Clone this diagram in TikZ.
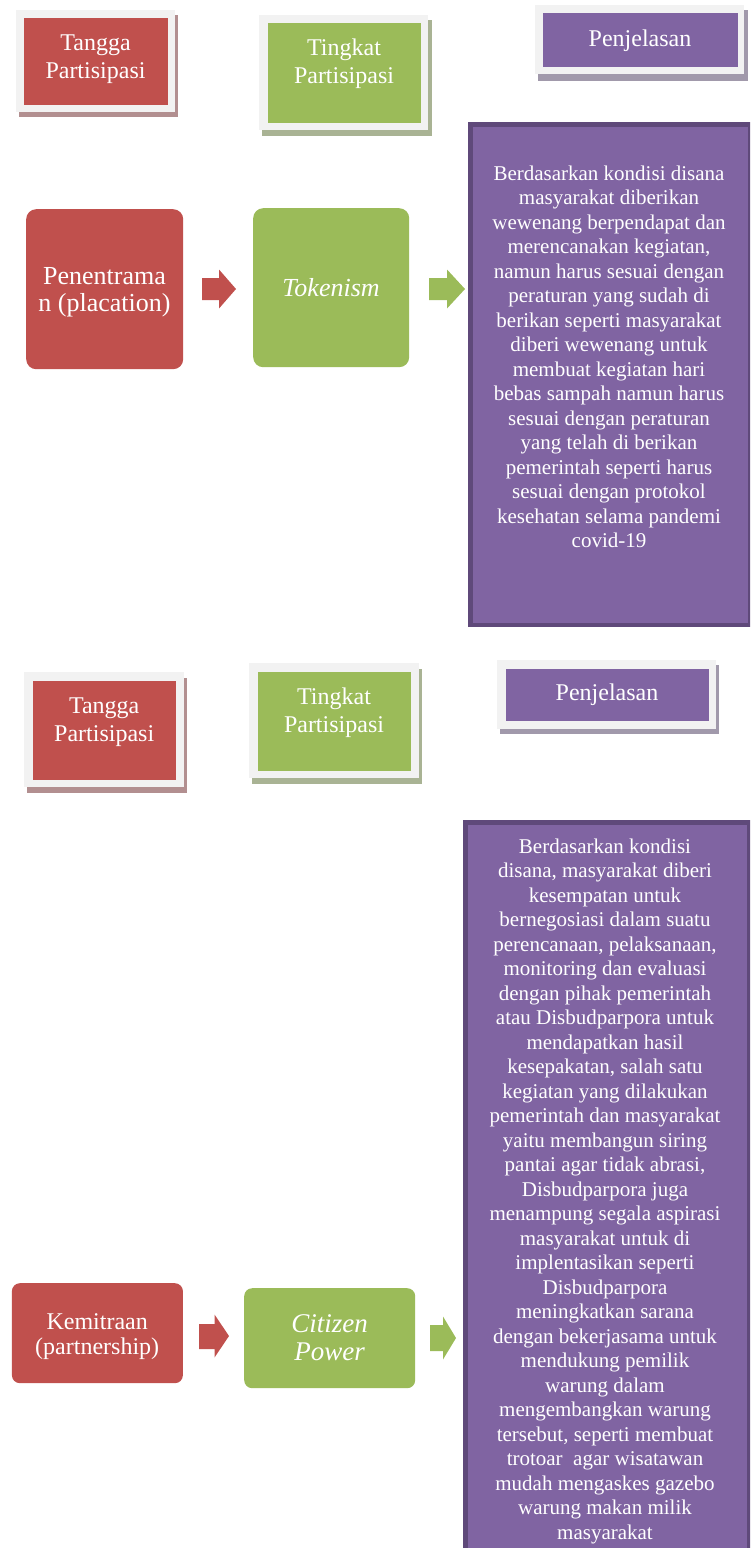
\documentclass[tikz,border=0pt]{standalone}
\usepackage{fontspec}
\setmainfont{Liberation Serif}
\definecolor{redc}{HTML}{C0504D}
\definecolor{greenc}{HTML}{9BBB59}
\definecolor{purplec}{HTML}{8064A2}
\definecolor{purpledark}{HTML}{5F497A}
\definecolor{framec}{HTML}{F2F2F2}
\definecolor{shadowR}{HTML}{B28F90}
\definecolor{shadowG}{HTML}{A9B394}
\definecolor{shadowP}{HTML}{A199AB}
\begin{document}
\begin{tikzpicture}[x=1pt,y=1pt,
  hbox/.style={draw=none,inner sep=0pt,anchor=north west},
  htxt/.style={text=white,inner sep=0pt,align=center,font=\fontsize{24}{28}\selectfont},
  rbox/.style={draw=none,inner sep=0pt,anchor=north west,rounded corners=#1},
  bigbox/.style={draw=purpledark,fill=purplec,line width=4.7pt,inner sep=0pt,anchor=north west},
  btxt/.style={text=white,inner sep=0pt,align=center,font=\fontsize{21}{24.5}\selectfont}]
\useasboundingbox (0,0) rectangle (750,-1548);
\clip (0,0) rectangle (750,-1548);

% ---------- Section 1 headers ----------
\fill[shadowR] (18.5,-15) rectangle (178.3,-117.3);
\fill[framec] (16,-10) rectangle (175,-112);
\node[hbox,fill=redc,minimum width=144,minimum height=86.6] (hA) at (23.3,-17.7) {};
\node[htxt,anchor=north] (hAt) at (95.5,-30.4) {\strut Tangga\\Partisipasi};

\fill[shadowG] (262,-20) rectangle (432.3,-135.7);
\fill[framec] (259.3,-15) rectangle (428.3,-130);
\node[hbox,fill=greenc,minimum width=153.7,minimum height=99.6] (hB) at (267.3,-22.7) {};
\node[htxt,anchor=north] (hBt) at (344,-35.4) {\strut Tingkat\\Partisipasi};

\fill[shadowP] (537.7,-10) rectangle (747.7,-80.7);
\fill[framec] (535,-5) rectangle (744,-74);
\node[hbox,fill=purplec,minimum width=194.6,minimum height=54] (hC) at (542.7,-12.7) {};
\node[htxt,anchor=base] (hCt) at (640,-46) {Penjelasan};

% ---------- Section 1 content ----------
\node[rbox=10pt,fill=redc,minimum width=157,minimum height=160] (r1) at (26,-209) {};
\node[text=white,inner sep=0pt,align=center,anchor=north,font=\fontsize{26}{27}\selectfont] (r1t) at (104.5,-265.1) {\strut Penentrama\\n (placation)};

\node[rbox=10pt,fill=greenc,minimum width=156,minimum height=159] (g1) at (253,-208) {};
\node[text=white,inner sep=0pt,anchor=base,font=\fontsize{26}{27}\selectfont\itshape] (g1t) at (331,-296) {Tokenism};

\node[bigbox,minimum width=279.3,minimum height=500.3] (p1) at (468.35,-122.35) {};
\node[btxt,anchor=north] (p1t) at (609,-162.85) {\strut Berdasarkan kondisi disana\\
masyarakat diberikan\\
wewenang berpendapat dan\\
merencanakan kegiatan,\\
namun harus sesuai dengan\\
peraturan yang sudah di\\
berikan seperti masyarakat\\
diberi wewenang untuk\\
membuat kegiatan hari\\
bebas sampah namun harus\\
sesuai dengan peraturan\\
yang telah di berikan\\
pemerintah seperti harus\\
sesuai dengan protokol\\
kesehatan selama pandemi\\
covid-19};

% block arrows between r1 -> g1 -> p1
\fill[redc] (202,-278) -- (219,-278) -- (219,-269.5) -- (236,-289) -- (219,-308.5) -- (219,-300) -- (202,-300) -- cycle;
\fill[greenc] (429,-278) -- (447,-278) -- (447,-269.5) -- (465,-289) -- (447,-308.5) -- (447,-300) -- (429,-300) -- cycle;

% ---------- Section 2 headers ----------
\fill[shadowR] (26.7,-677.7) rectangle (186.7,-793.3);
\fill[framec] (24,-672.3) rectangle (184,-787.3);
\node[hbox,fill=redc,minimum width=143.7,minimum height=99.3] (hA2) at (32.3,-680.7) {};
\node[htxt,anchor=north] (hA2t) at (104.2,-693.7) {\strut Tangga\\Partisipasi};

\fill[shadowG] (252.3,-669) rectangle (421.7,-784);
\fill[framec] (249.3,-663.3) rectangle (419,-778.3);
\node[hbox,fill=greenc,minimum width=153.7,minimum height=99] (hB2) at (257.3,-671.7) {};
\node[htxt,anchor=north] (hB2t) at (334,-684.7) {\strut Tingkat\\Partisipasi};

\fill[shadowP] (500,-665) rectangle (719,-734.3);
\fill[framec] (496.7,-660) rectangle (716,-729);
\node[hbox,fill=purplec,minimum width=202.6,minimum height=52.7] (hC2) at (505.7,-668.3) {};
\node[htxt,anchor=base] (hC2t) at (607,-700) {Penjelasan};

% ---------- Section 2 content ----------
\node[rbox=8pt,fill=redc,minimum width=171,minimum height=100] (r2) at (11.7,-1283) {};
\node[text=white,inner sep=0pt,align=center,anchor=north,font=\fontsize{24}{23.5}\selectfont] (r2t) at (97.2,-1312.9) {\strut Kemitraan\\(partnership)};

\node[rbox=8pt,fill=greenc,minimum width=171,minimum height=100] (g2) at (244,-1288) {};
\node[text=white,inner sep=0pt,align=center,anchor=north,font=\fontsize{27}{28}\selectfont\itshape] (g2t) at (329.5,-1313.1) {\strut Citizen\\Power};

\node[bigbox,minimum width=283.3,minimum height=739.65] (p2) at (463.35,-820.35) {};
\node[btxt,anchor=north] (p2t) at (605,-835.85) {\strut Berdasarkan kondisi\\
disana, masyarakat diberi\\
kesempatan untuk\\
bernegosiasi dalam suatu\\
perencanaan, pelaksanaan,\\
monitoring dan evaluasi\\
dengan pihak pemerintah\\
atau Disbudparpora untuk\\
mendapatkan hasil\\
kesepakatan, salah satu\\
kegiatan yang dilakukan\\
pemerintah dan masyarakat\\
yaitu membangun siring\\
pantai agar tidak abrasi,\\
Disbudparpora juga\\
menampung segala aspirasi\\
masyarakat untuk di\\
implentasikan seperti\\
Disbudparpora\\
meningkatkan sarana\\
dengan bekerjasama untuk\\
mendukung pemilik\\
warung dalam\\
mengembangkan warung\\
tersebut, seperti membuat\\
trotoar\ \ agar wisatawan\\
mudah mengaskes gazebo\\
warung makan milik\\
masyarakat};

% block arrows between r2 -> g2 -> p2
\fill[redc] (199,-1324) -- (214.5,-1324) -- (214.5,-1314.5) -- (229,-1336) -- (214.5,-1357.5) -- (214.5,-1349) -- (199,-1349) -- cycle;
\fill[greenc] (430,-1325) -- (443,-1325) -- (443,-1316.5) -- (456,-1338) -- (443,-1359.5) -- (443,-1351) -- (430,-1351) -- cycle;
\end{tikzpicture}
\end{document}
